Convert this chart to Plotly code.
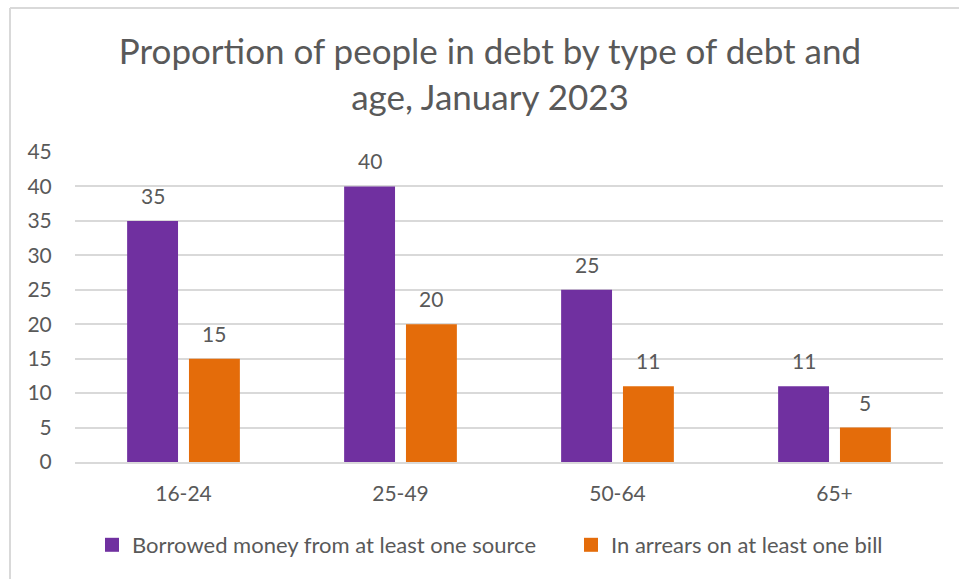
import plotly.graph_objects as go

# Data
age_groups = ["16-24", "25-49", "50-64", "65+"]
borrowed = [35, 40, 25, 11]
arrears = [15, 20, 11, 5]
series_names = ["Borrowed money from at least one source", "In arrears on at least one bill"]
series_colors = ["#7030A0", "#E46C0A"]
legend_widths = [434, None]

FONT = "Lato, 'Open Sans', sans-serif"
TEXT = "#595959"

W, H = 959, 579
ML, MR, MT, MB = 75, 16, 152, 117
PW, PH = W - ML - MR, H - MT - MB


def px_x(p):
    return (p - ML) / PW


def px_y(p):
    return (H - MB - p) / PH


fig = go.Figure()
for name, vals, color, lw in zip(series_names, [borrowed, arrears], series_colors, legend_widths):
    fig.add_trace(go.Bar(
        x=age_groups, y=vals, name=name, showlegend=False,
        marker=dict(color=color, line=dict(width=0)),
    ))
    # legend entry with a larger square swatch
    fig.add_trace(go.Scatter(
        x=[None], y=[None], mode="markers", name=name, legendwidth=lw,
        marker=dict(symbol="square", size=14, color=color),
    ))

# Value labels above each bar
group_w = PW / len(age_groups) * (1 - 0.43)
for i, vals in enumerate([borrowed, arrears]):
    shift = (i - 0.5) * group_w / 2
    for cat, v in zip(age_groups, vals):
        fig.add_annotation(
            x=cat, y=v, text=str(v), showarrow=False,
            xshift=shift, yshift=11, yanchor="bottom",
            font=dict(family=FONT, size=21, color=TEXT),
        )

# Chart frame lines
fig.add_shape(type="line", xref="paper", yref="paper",
              x0=px_x(10), x1=px_x(962), y0=px_y(8), y1=px_y(8),
              line=dict(color="#D9D9D9", width=2))
fig.add_shape(type="line", xref="paper", yref="paper",
              x0=px_x(10), x1=px_x(10), y0=px_y(8), y1=px_y(582),
              line=dict(color="#D9D9D9", width=2))

fig.update_layout(
    width=W, height=H,
    margin=dict(l=ML, r=MR, t=MT, b=MB),
    paper_bgcolor="white", plot_bgcolor="white",
    barmode="group", bargap=0.43, bargroupgap=0.177,
    title=dict(
        text="Proportion of people in debt by type of debt and<br>age, January 2023",
        x=px_x(490), xanchor="center", xref="paper",
        y=1 - 64 / H, yanchor="middle",
        font=dict(family=FONT, size=35, color=TEXT),
    ),
    font=dict(family=FONT, color=TEXT),
    showlegend=True,
    legend=dict(
        orientation="h", x=px_x(92), xanchor="left",
        y=px_y(545), yanchor="middle",
        font=dict(family=FONT, size=22, color=TEXT),
        bgcolor="rgba(0,0,0,0)",
    ),
    xaxis=dict(
        showgrid=False, showline=True, linecolor="#D9D9D9", linewidth=1.5,
        ticks="outside", ticklen=12, tickcolor="rgba(0,0,0,0)",
        tickfont=dict(family=FONT, size=21, color=TEXT),
    ),
    yaxis=dict(
        range=[0, 45], dtick=5, showgrid=True, gridcolor="#D9D9D9", gridwidth=1.5,
        zeroline=False, showline=False,
        ticks="outside", ticklen=18, tickcolor="rgba(0,0,0,0)",
        tickfont=dict(family=FONT, size=21, color=TEXT),
    ),
)

fig.write_html("out.html")
